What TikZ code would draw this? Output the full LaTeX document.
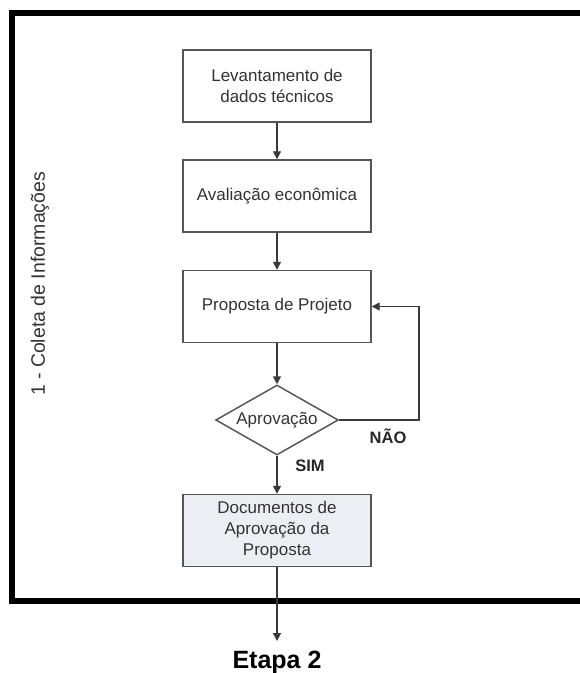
\documentclass[tikz,border=0pt]{standalone}
\usepackage{fontspec}
\setmainfont{Liberation Sans}
\usetikzlibrary{shapes.geometric,arrows.meta}
\definecolor{txt}{HTML}{333333}
\definecolor{edge}{HTML}{555555}
\definecolor{lineclr}{HTML}{3A3A3A}
\definecolor{docfill}{HTML}{EBEEF3}
\tikzset{
  stepbox/.style={draw=edge, line width=1.1pt, fill=white, minimum width=141pt, minimum height=54pt,
    inner sep=0pt, align=center, text=txt, font=\fontsize{12.75}{15.75}\selectfont},
  decision/.style={draw=edge, line width=1.1pt, diamond, aspect=1.76, minimum width=92pt, minimum height=52.5pt,
    inner sep=0pt, text=txt, font=\fontsize{12.75}{15.75}\selectfont},
  conn/.style={draw=lineclr, line width=1.1pt, -{Triangle[length=6pt,width=6pt]}},
  lbl/.style={font=\bfseries\fontsize{12.4}{14}\selectfont, text=black!85, inner sep=0pt},
}
\begin{document}
\begin{tikzpicture}[x=0.75pt, y=-0.75pt]
\useasboundingbox (0,0) rectangle (580,673);
\clip (0,0) rectangle (580,673);
% frame
\draw[line width=4.5pt, black] (600,13) -- (12,13) -- (12,601) -- (600,601);
\node[rotate=90, text=txt, font=\fontsize{14.6}{16}\selectfont] (title) at (40,284) {1 - Coleta de Informações};
% nodes
\node[stepbox] (b1) at (277,86) {Levantamento de\\dados técnicos};
\node[stepbox] (b2) at (277,196) {Avaliação econômica};
\node[stepbox] (b3) at (277,306.5) {Proposta de Projeto};
\node[decision] (d) at (277,420) {Aprovação};
\node[stepbox, fill=docfill] (b4) at (277,530.5) {Documentos de\\Aprovação da\\Proposta};
\node[font=\bfseries\fontsize{18.75}{20}\selectfont, text=black, inner sep=0pt] (e2) at (277,662) {Etapa 2};
\coordinate (end) at (277,641);
\coordinate (loopA) at (419,420);
\coordinate (loopB) at (419,306.5);
% connectors
\draw[conn] (b1) -- (b2);
\draw[conn] (b2) -- (b3);
\draw[conn] (b3) -- (d);
\draw[conn] (d) -- (b4);
\draw[conn] (b4) -- (end);
\draw[conn] (d.east) -- (loopA) -- (loopB) -- (b3.east);
% labels
\node[lbl] (nao) at (388,436) {NÃO};
\node[lbl] (sim) at (310,466) {SIM};
\end{tikzpicture}
\end{document}
